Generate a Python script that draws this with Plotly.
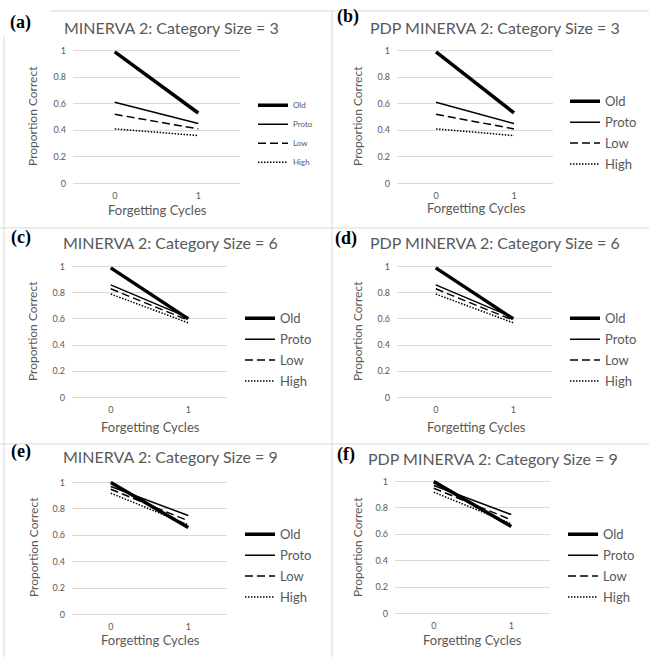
import plotly.graph_objects as go

W, H = 649, 660

# ---------------- data ----------------
cycles = [0, 1]
series_names = ["Old", "Proto", "Low", "High"]
y_tick_vals = [0, 0.2, 0.4, 0.6, 0.8, 1]
y_tick_text = ["0", "0.2", "0.4", "0.6", "0.8", "1"]
x_tick_text = ["0", "1"]

titles = [
    "MINERVA 2: Category Size = 3",
    "PDP MINERVA 2: Category Size = 3",
    "MINERVA 2: Category Size = 6",
    "PDP MINERVA 2: Category Size = 6",
    "MINERVA 2: Category Size = 9",
    "PDP MINERVA 2: Category Size = 9",
]
panel_labels = ["(a)", "(b)", "(c)", "(d)", "(e)", "(f)"]

# (a) MINERVA 2, size 3
a_old = [0.99, 0.53]
a_proto = [0.61, 0.45]
a_low = [0.52, 0.41]
a_high = [0.41, 0.36]
# (b) PDP MINERVA 2, size 3
b_old = [0.99, 0.53]
b_proto = [0.61, 0.45]
b_low = [0.52, 0.41]
b_high = [0.41, 0.36]
# (c) MINERVA 2, size 6
c_old = [0.99, 0.60]
c_proto = [0.86, 0.61]
c_low = [0.83, 0.59]
c_high = [0.79, 0.57]
# (d) PDP MINERVA 2, size 6
d_old = [0.99, 0.60]
d_proto = [0.86, 0.61]
d_low = [0.83, 0.59]
d_high = [0.79, 0.57]
# (e) MINERVA 2, size 9
e_old = [1.00, 0.66]
e_proto = [0.97, 0.75]
e_low = [0.95, 0.71]
e_high = [0.92, 0.68]
# (f) PDP MINERVA 2, size 9
f_old = [1.00, 0.66]
f_proto = [0.97, 0.75]
f_low = [0.95, 0.71]
f_high = [0.92, 0.68]

panel_series = [
    [a_old, a_proto, a_low, a_high],
    [b_old, b_proto, b_low, b_high],
    [c_old, c_proto, c_low, c_high],
    [d_old, d_proto, d_low, d_high],
    [e_old, e_proto, e_low, e_high],
    [f_old, f_proto, f_low, f_high],
]

# ---------------- styles / layout ----------------
FONT = "Lato"
GRAY = "#595959"
GRID = "#d9d9d9"
line_styles = {
    "Old": dict(color="black", width=3.5, dash="solid"),
    "Proto": dict(color="black", width=1.5, dash="solid"),
    "Low": dict(color="black", width=1.5, dash="8px,4px"),
    "High": dict(color="black", width=1.5, dash="1.5px,1.5px"),
}

# plot area in pixels: left, right, pixel of y=1, pixel of y=0
plot_px = [
    (73, 240, 48, 182),
    (397, 553, 48, 182),
    (72, 227, 266, 398),
    (397, 552, 266, 398),
    (72, 227, 484, 617),
    (395, 550, 483, 616),
]
title_px = [(171, 25), (495, 25), (170, 242), (495, 242), (170, 458), (493, 460)]
label_px = [(20, 20), (348, 14), (21, 237), (346, 238), (21, 453), (346, 456)]
ytitle_px = [(33, 114), (358, 114), (33, 331), (358, 331), (33, 549), (357, 549)]
xtitle_px = [(157, 209), (476, 207), (150, 428), (476, 428), (150, 643), (472, 643)]
# legend: line start x, middle y of items, font size
legend_px = [(260, 132, 8), (572, 131, 13), (247, 350, 13), (572, 350, 13), (247, 568, 13), (570, 568, 13)]

PAD = 0.02


def px_x(v):
    return v / W


def px_y(v):
    return 1 - v / H


fig = go.Figure()
annotations = []
layout = {}

for i in range(6):
    n = i + 1
    xs = "x" if n == 1 else f"x{n}"
    ys = "y" if n == 1 else f"y{n}"
    leg = "legend" if n == 1 else f"legend{n}"
    for name, vals in zip(series_names, panel_series[i]):
        fig.add_trace(go.Scatter(
            x=cycles, y=vals, mode="lines", name=name,
            line=line_styles[name], xaxis=xs, yaxis=ys, legend=leg,
            legendgroup=f"{leg}_{name}", hoverinfo="skip",
        ))
    l, r, p1, p0 = plot_px[i]
    u = p0 - p1
    top = p1 - PAD * u
    bot = p0 + PAD * u
    layout["xaxis" if n == 1 else f"xaxis{n}"] = dict(
        domain=[px_x(l), px_x(r)], range=[-0.5, 1.5], tickvals=cycles,
        ticktext=x_tick_text, showgrid=False, zeroline=False, showline=False,
        ticks="", tickfont=dict(family=FONT, size=9, color=GRAY),
        anchor=ys, ticklabelstandoff=3, fixedrange=True,
    )
    layout["yaxis" if n == 1 else f"yaxis{n}"] = dict(
        domain=[px_y(bot), px_y(top)], range=[-PAD, 1 + PAD],
        tickvals=y_tick_vals, ticktext=y_tick_text, showgrid=True,
        gridcolor=GRID, gridwidth=1, zeroline=False, showline=False,
        ticks="", tickfont=dict(family=FONT, size=9, color=GRAY),
        anchor=xs, ticklabelstandoff=6, fixedrange=True,
    )
    lx, ly, lfs = legend_px[i]
    layout[leg] = dict(
        x=px_x(lx - 7), y=px_y(ly), xanchor="left", yanchor="middle",
        font=dict(family=FONT, size=lfs, color=GRAY),
        bgcolor="rgba(0,0,0,0)", borderwidth=0, traceorder="grouped",
        tracegroupgap=1 if lfs > 10 else 0,
    )
    tx, ty = title_px[i]
    annotations.append(dict(text=titles[i], x=px_x(tx), y=px_y(ty), xref="paper", yref="paper",
                            xanchor="center", yanchor="middle", showarrow=False,
                            font=dict(family=FONT, size=16, color=GRAY)))
    bx, by = label_px[i]
    annotations.append(dict(text=f"<b>{panel_labels[i]}</b>", x=px_x(bx), y=px_y(by), xref="paper", yref="paper",
                            xanchor="center", yanchor="middle", showarrow=False,
                            font=dict(family="Liberation Serif", size=18, color="black")))
    yx, yy = ytitle_px[i]
    annotations.append(dict(text="Proportion Correct", x=px_x(yx), y=px_y(yy), xref="paper", yref="paper",
                            xanchor="center", yanchor="middle", showarrow=False, textangle=-90,
                            font=dict(family=FONT, size=12, color=GRAY)))
    xx, xy = xtitle_px[i]
    annotations.append(dict(text="Forgetting Cycles", x=px_x(xx), y=px_y(xy), xref="paper", yref="paper",
                            xanchor="center", yanchor="middle", showarrow=False,
                            font=dict(family=FONT, size=13, color=GRAY)))

sep_lines = [((50, 8), (649, 8)), ((0, 227), (649, 227)), ((0, 445), (649, 445)),
             ((4, 33), (4, 660)), ((332, 8), (332, 660))]
shapes = [dict(type="line", xref="paper", yref="paper", x0=px_x(a[0]), y0=px_y(a[1]),
               x1=px_x(b[0]), y1=px_y(b[1]), line=dict(color=GRID, width=1)) for a, b in sep_lines]

fig.update_layout(
    width=W, height=H, margin=dict(l=0, r=0, t=0, b=0),
    paper_bgcolor="white", plot_bgcolor="white", showlegend=True,
    annotations=annotations, shapes=shapes, **layout,
)

fig.write_html(
    "out.html",
    config={"displayModeBar": False, "staticPlot": True},
    post_script="document.body.style.margin='0px';document.body.style.overflow='hidden';",
)
